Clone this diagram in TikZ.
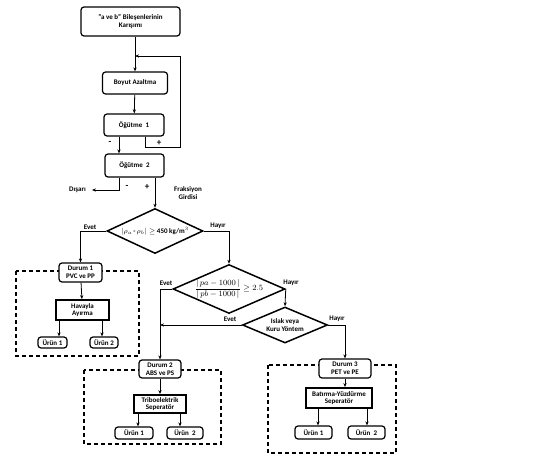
\documentclass[tikz,border=0pt]{standalone}
\usepackage{amsmath,amssymb}
\usepackage{fontspec}
\setmainfont{Carlito}
\usetikzlibrary{positioning, arrows.meta, shapes}

\begin{document}
\begin{tikzpicture}[x=1pt, y=-1pt, every node/.style={font=\fontsize{7}{7.8}\selectfont\bfseries},
    box/.style={draw, rounded corners=3pt, line width=1.2pt, fill=white, align=center, inner sep=0pt},
    sepbox/.style={draw, line width=1.8pt, fill=white, align=center, inner sep=0pt},
    dia/.style={draw, diamond, line width=1.5pt, inner sep=0pt},
    lbl/.style={inner sep=0pt, align=center},
    group/.style={draw, line width=1.1pt, dash pattern=on 4pt off 3pt},
    arr/.style={-{Stealth[length=4pt,width=3.2pt]}, line width=0.8pt}]
\useasboundingbox (0,0) rectangle (542,466);
% grinding stages
\node[box, minimum width=99pt, minimum height=29pt] (mix) at (130.5,21.5) {"a ve b" Bileşenlerinin\\Karışımı};
\node[box, minimum width=65pt, minimum height=22pt] (boyut) at (135,83) {Boyut Azaltma};
\node[box, minimum width=60pt, minimum height=22pt] (og1) at (134,125) {Öğütme~~1};
\node[box, minimum width=59pt, minimum height=23pt] (og2) at (134.5,165.5) {Öğütme~~2};
\coordinate (fb) at (135,56);
\coordinate (fbr) at (180,147);
\coordinate (out) at (92,190);
\draw[arr] (mix.south -| boyut.north) -- (boyut.north);
\draw[arr] (boyut) -- (og1);
\draw[arr] ([xshift=11pt]og1.south) |- (fbr) |- (fb);
\draw[arr] ([xshift=-15pt]og1.south) -- ([xshift=-15pt]og1.south |- og2.north);
\draw[arr] ([xshift=-15pt]og2.south) |- (out);
\node[lbl, font=\fontsize{9}{9}\selectfont\bfseries] (m1) at (110,143) {-};
\node[lbl, font=\fontsize{9}{9}\selectfont\bfseries] (p1) at (159,143) {+};
\node[lbl, font=\fontsize{9}{9}\selectfont\bfseries] (m2) at (127,187) {-};
\node[lbl, font=\fontsize{9}{9}\selectfont\bfseries] (p2) at (147,187) {+};
\node[lbl, left=6pt of out] (disari) {Dışarı};
\node[lbl] (frak) at (188,193) {Fraksiyon\\Girdisi};
% decisions
\node[dia, minimum width=96pt, minimum height=45pt] (d1) at (155,231) {};
\node[dia, minimum width=112pt, minimum height=49pt] (d2) at (229,289) {};
\node[dia, minimum width=85pt, minimum height=36pt] (d3) at (285,325) {};
\node[lbl] (d1txt) at (d1.center) {$|\rho_a$\,-\,$\rho_b|\geq$ 450 kg/m$^3$};
\node[lbl, font=\fontsize{8}{9}\selectfont\bfseries] (d2txt) at (d2.center) {$\dfrac{|\,pa-1000\,|}{|\,pb-1000\,|}\geq 2.5$};
\node[lbl] (d3txt) at (d3.center) {Islak veya\\Kuru Yöntem};
\draw[arr] (og2.south -| d1.north) -- (d1.north);
% case groups
\draw[group] (16,271) rectangle (139,356);
\draw[group] (84,370) rectangle (221,444);
\draw[group] (268,365) rectangle (396,453);
\node[box, minimum width=43pt, minimum height=19pt] (dur1) at (80.5,272.5) {Durum 1\\PVC ve PP};
\node[sepbox, minimum width=53pt, minimum height=20pt] (hav) at (82.5,310) {Havayla\\Ayırma};
\node[box, minimum width=29pt, minimum height=11pt] (u11) at (52.5,342.5) {Ürün 1};
\node[box, minimum width=28pt, minimum height=11pt] (u12) at (104,342.5) {Ürün 2};
\node[box, minimum width=42pt, minimum height=18pt] (dur2) at (160,369) {Durum 2\\ABS ve PS};
\node[sepbox, minimum width=52pt, minimum height=18pt] (tribo) at (160,404) {Triboelektrik\\Seperatör};
\node[box, minimum width=38pt, minimum height=12pt] (u21) at (134,433) {Ürün 1};
\node[box, minimum width=36pt, minimum height=12pt] (u22) at (185,433) {Ürün~~2};
\node[box, minimum width=52pt, minimum height=19pt] (dur3) at (345,368.5) {Durum 3\\PET ve PE};
\node[sepbox, minimum width=66pt, minimum height=20pt] (bat) at (339,398) {Batırma-Yüzdürme\\Seperatör};
\node[box, minimum width=37pt, minimum height=13pt] (u31) at (313.5,432.5) {Ürün 1};
\node[box, minimum width=37pt, minimum height=13pt] (u32) at (366.5,432.5) {Ürün~~2};
% decision branches
\draw[arr] (d1.west) -| (dur1.north);
\draw[arr] (d1.east) -| (d2.north);
\draw[arr] (d2.west) -| (dur2.north);
\draw[arr] (d2.east) -- (d3.north);
\draw[arr] (d3.west) -- (d3.west -| dur2.north);
\draw[arr] (d3.east) -| (dur3.north);
\node[lbl] (e1) at (90,227) {Evet};
\node[lbl] (h1) at (218,226) {Hayır};
\node[lbl] (e2) at (166,283) {Evet};
\node[lbl] (h2) at (291,283) {Hayır};
\node[lbl] (e3) at (230,319) {Evet};
\node[lbl] (h3) at (337,319) {Hayır};
% products
\draw[arr] (dur1) -- (hav);
\draw[arr] ([xshift=-23.5pt]hav.south) -- ([xshift=-23.5pt]hav.south |- u11.north);
\draw[arr] ([xshift=19.5pt]hav.south) -- ([xshift=19.5pt]hav.south |- u12.north);
\draw[arr] (dur2) -- (tribo);
\draw[arr] ([xshift=-22pt]tribo.south) -- ([xshift=-22pt]tribo.south |- u21.north);
\draw[arr] ([xshift=20pt]tribo.south) -- ([xshift=20pt]tribo.south |- u22.north);
\draw[arr] (dur3.south) -- (dur3.south |- bat.north);
\draw[arr] ([xshift=-21pt]bat.south) -- ([xshift=-21pt]bat.south |- u31.north);
\draw[arr] ([xshift=28pt]bat.south) -- ([xshift=28pt]bat.south |- u32.north);
\end{tikzpicture}
\end{document}
